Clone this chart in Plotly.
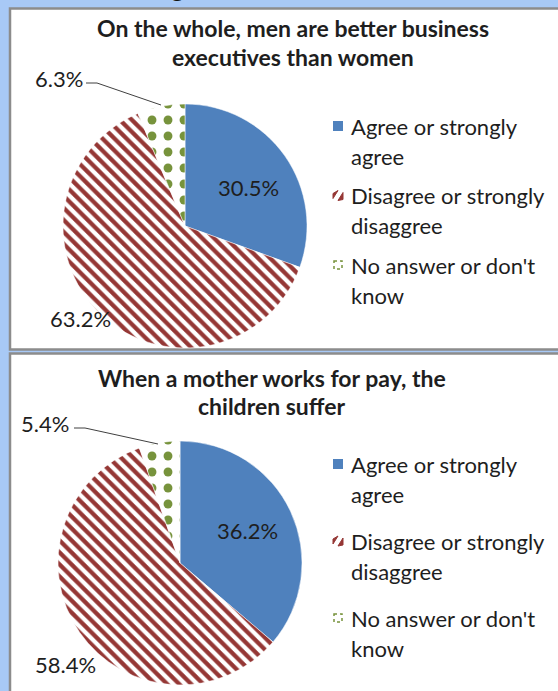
import plotly.graph_objects as go

# ---------------- data ----------------
categories = ["Agree or strongly agree", "Disagree or strongly disaggree", "No answer or don't know"]
legend_lines = [["Agree or strongly", "agree"],
                ["Disagree or strongly", "disaggree"],
                ["No answer or don't", "know"]]
title_top = ["On the whole, men are better business", "executives than women"]
title_bottom = ["When a mother works for pay, the", "children suffer"]
values_top = [30.5, 63.2, 6.3]
values_bottom = [36.2, 58.4, 5.4]

# ---------------- style ----------------
W, H = 558, 691
FONT = "Lato"
TXT = "#1e1e1e"
BLUE, RED, GREEN = "#4f81bd", "#953735", "#77933c"
BG = "#a8c9f6"
BORDER = "#8c8c8c"


def px(x):
    return x / W


def py(y):
    return 1 - y / H


def pie(values, cx, cy, r):
    return go.Pie(
        labels=categories, values=values, sort=False, direction="clockwise", rotation=0,
        domain=dict(x=[px(cx - r), px(cx + r)], y=[py(cy + r), py(cy - r)]),
        marker=dict(colors=[BLUE, RED, GREEN], line=dict(color="white", width=0.5),
                    pattern=dict(shape=["", "\\", "."], fillmode="overlay",
                                 fgcolor=[BLUE, RED, GREEN], bgcolor=[BLUE, "white", "white"],
                                 fgopacity=1, size=[8, 8.5, 16], solidity=[0.5, 0.5, 0.24])),
        textinfo="none", hoverinfo="label+percent", showlegend=False)


fig = go.Figure()
fig.add_trace(pie(values_top, 185, 226, 122))
fig.add_trace(pie(values_bottom, 180, 563, 122))

shapes = []
annotations = []

# panels
shapes.append(dict(type="rect", xref="paper", yref="paper", layer="below",
                   x0=px(10), x1=px(600), y0=py(8.5), y1=py(349.5),
                   fillcolor="white", line=dict(color=BORDER, width=2.5)))
shapes.append(dict(type="rect", xref="paper", yref="paper", layer="below",
                   x0=px(10), x1=px(600), y0=py(353.5), y1=py(720),
                   fillcolor="white", line=dict(color=BORDER, width=2.5)))


def text(s, x, y, size=22, bold=False, xanchor="left"):
    annotations.append(dict(text=f"<b>{s}</b>" if bold else s, x=px(x), y=py(y),
                            xref="paper", yref="paper", xanchor=xanchor, yanchor="middle",
                            showarrow=False, font=dict(family=FONT, size=size, color=TXT)))


def fmt(v):
    return f"{v:.1f}%"


# top chart
for i, line in enumerate(title_top):
    text(line, 293, 28 + 29 * i, size=23, bold=True, xanchor="center")
text(fmt(values_top[0]), 248, 187, xanchor="center")
text(fmt(values_top[1]), 80, 318, xanchor="center")
text(fmt(values_top[2]), 85, 79, xanchor="right")
shapes.append(dict(type="path", xref="paper", yref="paper",
                   path=f"M {px(86)} {py(83)} L {px(97)} {py(83)} L {px(161)} {py(105)}",
                   line=dict(color="#404040", width=1)))

# bottom chart
for i, line in enumerate(title_bottom):
    text(line, 272, 378 + 28 * i, size=23, bold=True, xanchor="center")
text(fmt(values_bottom[0]), 247, 530, xanchor="center")
text(fmt(values_bottom[1]), 65, 664, xanchor="center")
text(fmt(values_bottom[2]), 71, 423, xanchor="right")
shapes.append(dict(type="path", xref="paper", yref="paper",
                   path=f"M {px(74)} {py(428)} L {px(85)} {py(428)} L {px(158)} {py(444)}",
                   line=dict(color="#404040", width=1)))


# legends
def legend(y0, gap):
    for k, lines in enumerate(legend_lines):
        yy = y0 + gap * k
        for j, ln in enumerate(lines):
            text(ln, 349, yy + 30 * j)
        if k == 0:
            shapes.append(dict(type="rect", xref="paper", yref="paper",
                               x0=px(333), x1=px(343), y0=py(yy - 5), y1=py(yy + 5),
                               fillcolor=BLUE, line=dict(width=0)))
        elif k == 1:
            shapes.append(dict(type="path", xref="paper", yref="paper",
                               path=(f"M {px(333)} {py(yy-2)} L {px(338)} {py(yy-5)} L {px(333)} {py(yy+3)} Z "
                                     f"M {px(343)} {py(yy-3)} L {px(343)} {py(yy+4)} L {px(338)} {py(yy+5)} Z"),
                               fillcolor=RED, line=dict(color=RED, width=1)))
        else:
            shapes.append(dict(type="rect", xref="paper", yref="paper",
                               x0=px(334), x1=px(342), y0=py(yy - 4), y1=py(yy + 4),
                               fillcolor="rgba(0,0,0,0)", line=dict(color=GREEN, width=1.5, dash="dot")))


legend(126, 69.5)
legend(464, 77)

# fragment of the slide title above the panels
annotations.append(dict(text="<b>g</b>", x=px(178), y=py(5), xref="paper", yref="paper",
                        xanchor="center", yanchor="bottom", showarrow=False,
                        font=dict(family=FONT, size=26, color="#111111")))

fig.update_layout(width=W, height=H, margin=dict(l=0, r=0, t=0, b=0),
                  paper_bgcolor=BG, plot_bgcolor=BG, showlegend=False,
                  shapes=shapes, annotations=annotations)

fig.write_html("out.html", config={"displayModeBar": False},
               post_script="document.body.style.margin='0';document.body.style.overflow='hidden';"
                           "document.body.style.background='" + BG + "';")
